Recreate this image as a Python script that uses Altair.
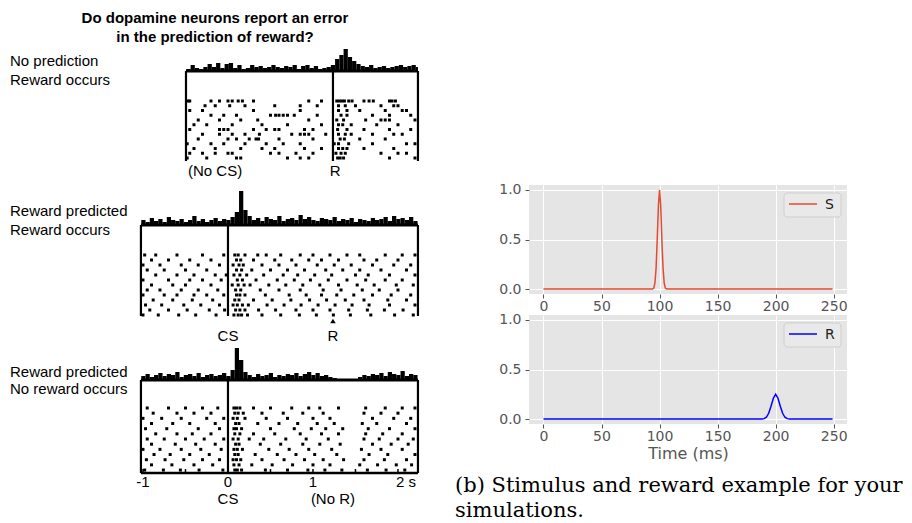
import altair as alt
import pandas as pd

# ---------------- left: scanned dopamine figure ----------------
BIN = 0.05  # s, histogram bin width
histA_start = -0.49
histA = [2, 6, 3, 2, 4, 7, 4, 8, 3, 7, 8, 3, 6, 2, 3, 6, 4, 5, 3, 4, 6, 4, 3, 5, 4, 6, 2, 5,
         6, 3, 5, 2, 3, 4, 6, 12, 16, 22, 14, 10, 7, 5, 4, 6, 3, 4, 5, 3, 4, 5, 6, 4, 5, 6, 4]
histB_start = -1.02
histB = [5, 3, 7, 4, 6, 3, 8, 5, 4, 6, 3, 5, 9, 4, 6, 3, 5, 7, 4, 6, 5,
         8, 13, 34, 15, 9,
         5, 7, 4, 8, 6, 5, 9, 4, 6, 7, 5, 10, 6, 8, 5, 4, 7, 6, 5, 8, 4, 6, 5, 7, 3, 6, 5, 4, 7,
         5, 6, 8, 4, 9, 6, 7, 5, 8, 4]
histC_start = -1.02
histC = [4, 6, 3, 5, 7, 4, 6, 5, 8, 3, 5, 6, 4, 7, 3, 5, 6, 4, 5, 7, 4,
         10, 32, 20, 8,
         5, 3, 6, 4, 5, 7, 3, 5, 4, 6, 5, 7, 4, 6, 8, 5, 7, 4, 5, 3,
         2, 0, 0, 0, 0, 0,
         3, 5, 4, 6, 5, 7, 4, 8, 6, 5, 9, 4, 6, 5]

rasterA = [
    [-0.47, -0.45, -0.2, -0.1, 0.0, 0.05, 0.12, 0.17, 0.3, 0.95, 1.1, 1.28, 1.31, 1.34, 1.37, 1.42, 1.46, 1.6, 1.66, 1.71, 1.9, 1.93, 1.97],
    [-0.27, -0.15, 0.02, 0.2, 0.55, 0.85, 1.05, 1.3, 1.38, 1.5, 1.8, 1.95, 2.0],
    [-0.45, -0.3, 0.3, 0.85, 1.3, 1.4, 1.55, 1.85, 2.05, 2.1],
    [-0.2, -0.05, 0.1, 0.5, 0.56, 0.6, 0.65, 0.7, 0.78, 1.05, 1.33, 1.4, 1.7, 1.9, 2.15],
    [-0.35, -0.1, 0.15, 0.35, 0.95, 1.28, 1.36, 1.62, 1.8, 1.85, 1.9, 2.2],
    [-0.4, -0.25, 0.05, 0.4, 0.7, 1.1, 1.3, 1.35, 1.45, 1.75, 2.0],
    [-0.45, -0.1, -0.05, 0.0, 0.3, 0.45, 0.55, 0.6, 0.9, 1.0, 1.29, 1.4, 1.6, 1.9, 2.15],
    [-0.3, -0.1, 0.05, 0.2, 0.37, 0.75, 0.85, 0.9, 0.95, 1.15, 1.3, 1.38, 1.45, 1.7, 1.95, 2.05],
    [-0.35, 0.0, 0.1, 0.25, 0.33, 0.36, 0.6, 1.0, 1.32, 1.37, 1.55, 1.85],
    [-0.48, -0.2, -0.05, 0.2, 0.45, 0.65, 0.85, 1.25, 1.3, 1.42, 1.7, 2.1, 2.2],
    [-0.4, -0.15, 0.15, 0.4, 0.55, 0.9, 1.1, 1.3, 1.35, 1.4, 1.6, 1.95],
    [-0.45, -0.3, -0.15, 0.0, 0.05, 0.5, 0.6, 0.8, 1.0, 1.27, 1.33, 1.38, 1.8, 2.0, 2.1],
    [-0.48, -0.25, 0.1, 0.15, 0.7, 0.85, 0.95, 1.29, 1.32, 1.36, 1.9, 2.2],
]
rasterB = [
    [-0.98, -0.85, -0.6, -0.3, -0.05, 0.08, 0.12, 0.2, 0.35, 0.45, 0.62, 0.85, 1.0, 1.2, 1.4, 1.55, 1.85, 2.05, 2.2],
    [-0.9, -0.7, -0.45, -0.2, 0.1, 0.15, 0.3, 0.55, 0.75, 0.95, 1.1, 1.3, 1.6, 1.75, 2.0],
    [-1.0, -0.8, -0.55, -0.35, -0.1, 0.06, 0.13, 0.18, 0.4, 0.6, 0.8, 1.05, 1.25, 1.45, 1.7, 1.95, 2.15],
    [-0.95, -0.75, -0.5, -0.25, 0.1, 0.16, 0.28, 0.5, 0.7, 0.9, 1.15, 1.35, 1.55, 1.8, 2.1],
    [-0.85, -0.6, -0.4, -0.15, -0.02, 0.07, 0.14, 0.22, 0.42, 0.65, 0.82, 1.02, 1.22, 1.5, 1.65, 1.9, 2.2],
    [-1.0, -0.7, -0.45, -0.3, -0.08, 0.11, 0.17, 0.33, 0.58, 0.78, 0.97, 1.18, 1.4, 1.62, 1.85, 2.05],
    [-0.9, -0.65, -0.5, -0.2, 0.05, 0.12, 0.19, 0.26, 0.48, 0.68, 0.88, 1.08, 1.3, 1.52, 1.72, 1.98, 2.18],
    [-0.95, -0.8, -0.55, -0.35, -0.12, 0.09, 0.15, 0.38, 0.6, 0.85, 1.12, 1.33, 1.58, 1.78, 2.0],
    [-1.0, -0.75, -0.6, -0.4, -0.25, -0.05, 0.1, 0.14, 0.2, 0.44, 0.72, 0.92, 1.1, 1.28, 1.48, 1.7, 1.92, 2.15],
    [-0.88, -0.65, -0.42, -0.18, 0.08, 0.13, 0.3, 0.52, 0.74, 0.96, 1.16, 1.38, 1.6, 1.88, 2.1],
    [-0.97, -0.78, -0.52, -0.32, -0.1, 0.06, 0.11, 0.17, 0.24, 0.46, 0.66, 0.86, 1.06, 1.26, 1.46, 1.66, 1.9, 2.2],
    [-0.92, -0.7, -0.48, -0.22, -0.04, 0.09, 0.14, 0.2, 0.36, 0.56, 0.8, 1.0, 1.2, 1.42, 1.64, 1.84, 2.06],
    [-1.0, -0.82, -0.58, -0.38, -0.14, 0.07, 0.12, 0.16, 0.23, 0.4, 0.62, 0.84, 1.04, 1.24, 1.44, 1.68, 1.96, 2.18],
]
rasterC = [
    [-0.95, -0.7, -0.5, -0.3, -0.12, 0.07, 0.1, 0.14, 0.3, 0.5, 0.75, 0.95, 1.08, 1.3, 1.62, 1.85, 2.05, 2.2],
    [-0.88, -0.6, -0.4, -0.2, 0.08, 0.12, 0.18, 0.4, 0.65, 0.88, 1.12, 1.6, 1.8, 2.0],
    [-1.0, -0.78, -0.55, -0.25, -0.05, 0.06, 0.11, 0.2, 0.45, 0.7, 1.0, 1.2, 1.7, 1.95, 2.15],
    [-0.9, -0.65, -0.45, -0.15, 0.09, 0.13, 0.35, 0.6, 0.82, 1.05, 1.25, 1.58, 1.75, 2.1],
    [-0.97, -0.72, -0.35, -0.1, 0.07, 0.1, 0.16, 0.5, 0.78, 0.98, 1.15, 1.35, 1.65, 1.9, 2.2],
    [-0.85, -0.6, -0.42, -0.2, 0.08, 0.14, 0.3, 0.55, 0.85, 1.1, 1.3, 1.62, 1.82, 2.05],
    [-0.95, -0.75, -0.5, -0.28, -0.05, 0.06, 0.12, 0.25, 0.42, 0.68, 0.92, 1.18, 1.6, 1.78, 2.0, 2.18],
    [-0.9, -0.62, -0.38, -0.15, 0.09, 0.13, 0.38, 0.62, 0.88, 1.08, 1.32, 1.7, 1.92, 2.12],
    [-1.0, -0.8, -0.55, -0.32, -0.08, 0.07, 0.11, 0.17, 0.48, 0.72, 0.95, 1.22, 1.57, 1.8, 2.05],
    [-0.87, -0.68, -0.45, -0.22, 0.08, 0.12, 0.32, 0.58, 0.8, 1.02, 1.28, 1.66, 1.88, 2.2],
    [-0.96, -0.74, -0.52, -0.3, -0.1, 0.06, 0.1, 0.15, 0.4, 0.66, 0.9, 1.12, 1.36, 1.6, 1.84, 2.1],
    [-0.9, -0.66, -0.4, -0.18, 0.07, 0.13, 0.28, 0.52, 0.76, 1.0, 1.2, 1.55, 1.76, 1.98, 2.16],
    [-0.98, -0.76, -0.56, -0.34, -0.06, 0.08, 0.11, 0.16, 0.44, 0.7, 0.94, 1.14, 1.34, 1.64, 1.86, 2.08],
]
axisC_ticks = [-1.0, -0.5, 0.0, 0.5, 1.0, 1.5, 2.0]

# ---------------- right: stimulus / reward traces ----------------
s_time = [0, 94, 95, 96, 97, 98, 99, 100, 101, 102, 103, 104, 105, 106, 249]
s_value = [0, 0, 0.01, 0.06, 0.21, 0.5, 0.84, 1.0, 0.84, 0.5, 0.21, 0.06, 0.01, 0, 0]
r_time = [0, 188, 190, 192, 194, 196, 198, 200, 202, 204, 206, 208, 210, 212, 249]
r_value = [0, 0, 0.004, 0.018, 0.058, 0.13, 0.21, 0.25, 0.21, 0.13, 0.058, 0.018, 0.004, 0, 0]
x_ticks = [0, 50, 100, 150, 200, 250]
y_ticks = [0.0, 0.5, 1.0]

caption_lines = ["(b) Stimulus and reward example for your", "simulations."]

# =========================================================
SANS = "Liberation Sans"
XS = alt.Scale(domain=[-2.588, 2.412], nice=False, zero=False)  # 85 px per second


def hist_df(vals, start, t_end):
    rows = []
    for i, v in enumerate(vals):
        a = start + i * BIN
        rows.append({"t0": a, "t1": min(a + BIN, t_end), "h": v, "b": 0})
    return pd.DataFrame(rows)


def raster_df(raster, y0, step):
    rows = []
    for i, times in enumerate(raster):
        for t in times:
            rows.append({"t": t, "y": y0 - i * step})
    return pd.DataFrame(rows)


def left_panel(height, ybot, ytop, hist, hstart, raster, y0, step,
               lo, hi, event_t, vbot, texts_left, texts_center, extra=None):
    ys = alt.Scale(domain=[ybot, ytop], nice=False, zero=False)

    def X(f):
        return alt.X(f, type="quantitative", scale=XS, axis=None)

    def Y(f):
        return alt.Y(f, type="quantitative", scale=ys, axis=None)

    bars = alt.Chart(hist_df(hist, hstart, hi)).mark_rect(color="black").encode(
        x=X("t0"), x2="t1", y=Y("b"), y2="h")
    base = alt.Chart(pd.DataFrame({"a": [lo], "b": [hi], "y": [0]})).mark_rule(
        color="black", strokeWidth=3).encode(x=X("a"), x2="b", y=Y("y"))
    verts = alt.Chart(pd.DataFrame({"t": [lo, event_t, hi], "y": [0, 0, 0], "y2": [vbot] * 3})).mark_rule(
        color="black", strokeWidth=2.2).encode(x=X("t"), y=Y("y"), y2="y2")
    dots = alt.Chart(raster_df(raster, y0, step)).mark_square(
        color="black", size=9, opacity=1).encode(x=X("t"), y=Y("y"))
    tl = alt.Chart(pd.DataFrame(texts_left, columns=["t", "y", "s"])).mark_text(
        align="left", baseline="middle", font=SANS, fontSize=15, color="black").encode(
        x=X("t"), y=Y("y"), text="s:N")
    tc = alt.Chart(pd.DataFrame(texts_center, columns=["t", "y", "s"])).mark_text(
        align="center", baseline="middle", font=SANS, fontSize=15, color="black").encode(
        x=X("t"), y=Y("y"), text="s:N")
    layers = [bars, base, verts, dots, tl, tc]
    if extra is not None:
        layers += extra(X, Y)
    return alt.layer(*layers).properties(width=425, height=height)


def extra_A(X, Y):
    t = alt.Chart(pd.DataFrame({"t": [-0.153, -0.153], "y": [53, 34],
                                "s": ["Do dopamine neurons report an error", "in the prediction of reward?"]})
                  ).mark_text(align="center", baseline="middle", font=SANS, fontSize=15,
                              fontWeight="bold", color="black").encode(x=X("t"), y=Y("y"), text="s:N")
    return [t]


def extra_B(X, Y):
    tri = alt.Chart(pd.DataFrame({"t": [1.235], "y": [-96]})).mark_point(
        shape="triangle-up", filled=True, color="black", size=30, opacity=1).encode(x=X("t"), y=Y("y"))
    return [tri]


def extra_C(X, Y):
    ax = alt.Chart(pd.DataFrame({"a": [-1.024], "b": [2.235], "y": [-93]})).mark_rule(
        color="black", strokeWidth=2.5).encode(x=X("a"), x2="b", y=Y("y"))
    ticks = alt.Chart(pd.DataFrame({"t": axisC_ticks, "y": [-93] * 7, "y2": [-89] * 7})).mark_rule(
        color="black", strokeWidth=1.5).encode(x=X("t"), y=Y("y"), y2="y2")
    return [ax, ticks]


pA = left_panel(164, -104, 60, histA, histA_start, rasterA, -30, 4.75,
                -0.494, 2.235, 1.235, -90,
                [(-2.565, 10, "No prediction"), (-2.565, -9, "Reward occurs"), (-0.47, -100, "(No CS)")],
                [(1.26, -100, "R")], extra_A)
pB = left_panel(165, -115, 50, histB, histB_start, rasterB, -30, 5.0,
                -1.024, 2.235, 0.0, -91,
                [(-2.565, 14, "Reward predicted"), (-2.565, -5, "Reward occurs")],
                [(0.0, -111, "CS"), (1.235, -111, "R")], extra_B)
pC = left_panel(178, -138, 40, histC, histC_start, rasterC, -28, 5.17,
                -1.024, 2.235, 0.0, -93,
                [(-2.565, 8, "Reward predicted"), (-2.565, -9, "No reward occurs")],
                [(-1.0, -102, "-1"), (0.0, -102, "0"), (1.0, -102, "1"), (2.094, -102, "2 s"),
                 (0.0, -119, "CS"), (1.235, -119, "(No R)")], extra_C)

left = alt.vconcat(pA, pB, pC, spacing=0, bounds="flush")

# ---------------- right charts ----------------
GRAY = "#555555"


def trace_chart(times, vals, name, color, with_title):
    df = pd.DataFrame({"t": times, "v": vals})
    xkw = dict(values=x_ticks, labelFont="DejaVu Sans", labelFontSize=14, labelColor=GRAY,
               tickColor=GRAY, tickSize=4, tickWidth=1, domain=False, grid=True,
               gridColor="white", gridWidth=1, labelPadding=1, labelFlush=False)
    if with_title:
        xkw.update(title="Time (ms)", titleFont="DejaVu Sans", titleFontSize=16,
                   titleColor=GRAY, titleFontWeight="normal", titlePadding=2)
    else:
        xkw.update(title="")
    yaxis = alt.Axis(values=y_ticks, format=".1f", labelFont="DejaVu Sans", labelFontSize=14,
                     labelColor=GRAY, tickColor=GRAY, tickSize=4, tickWidth=1, domain=False,
                     grid=True, gridColor="white", gridWidth=1, labelPadding=4, title="")
    line = alt.Chart(df).mark_line(color=color, strokeWidth=1.5).encode(
        x=alt.X("t:Q", scale=alt.Scale(domain=[-12.45, 261.45], nice=False, zero=False),
                axis=alt.Axis(**xkw)),
        y=alt.Y("v:Q", scale=alt.Scale(domain=[-0.05, 1.05], nice=False, zero=False), axis=yaxis))
    one = pd.DataFrame({"s": [name]})
    box = alt.Chart(one).mark_rect(fill="#E9E9E9", stroke="#CFCFCF", strokeWidth=1,
                                   cornerRadius=3).encode(
        x=alt.value(255), x2=alt.value(312), y=alt.value(8), y2=alt.value(32))
    sym = alt.Chart(one).mark_rule(color=color, strokeWidth=1.5).encode(
        x=alt.value(260), x2=alt.value(288), y=alt.value(19))
    lab = alt.Chart(one).mark_text(align="left", baseline="middle", font="DejaVu Sans",
                                   fontSize=14, color="#222222").encode(
        x=alt.value(296), y=alt.value(20), text="s:N")
    return alt.layer(line, box, sym, lab).properties(
        width=318, height=109, view=alt.ViewBackground(fill="#E5E5E5", stroke=None))


top = trace_chart(s_time, s_value, "S", "#E24A33", False)
bottom = trace_chart(r_time, r_value, "R", "#0000FF", True)

spacer = alt.Chart(pd.DataFrame({"a": [0]})).mark_point(opacity=0).encode(
    x=alt.value(0), y=alt.value(0)).properties(width=318, height=153)

cap_df = pd.DataFrame({"s": caption_lines, "row": [0, 1]})
cap1 = alt.Chart(cap_df).transform_filter("datum.row == 0").mark_text(
    align="left", baseline="alphabetic", font="DejaVu Serif", fontSize=21, color="black").encode(
    x=alt.value(-74), y=alt.value(47), text="s:N")
cap2 = alt.Chart(cap_df).transform_filter("datum.row == 1").mark_text(
    align="left", baseline="alphabetic", font="DejaVu Serif", fontSize=21, color="black").encode(
    x=alt.value(-74), y=alt.value(72), text="s:N")
caption = alt.layer(cap1, cap2).properties(width=318, height=73)

right = alt.vconcat(spacer, top, bottom, caption, spacing=21, bounds="flush")

chart = alt.hconcat(left, right, spacing=22).properties(
    padding=0, background="white").configure_view(stroke=None)

chart.save("out.html", embed_options={"renderer": "svg", "actions": False})
